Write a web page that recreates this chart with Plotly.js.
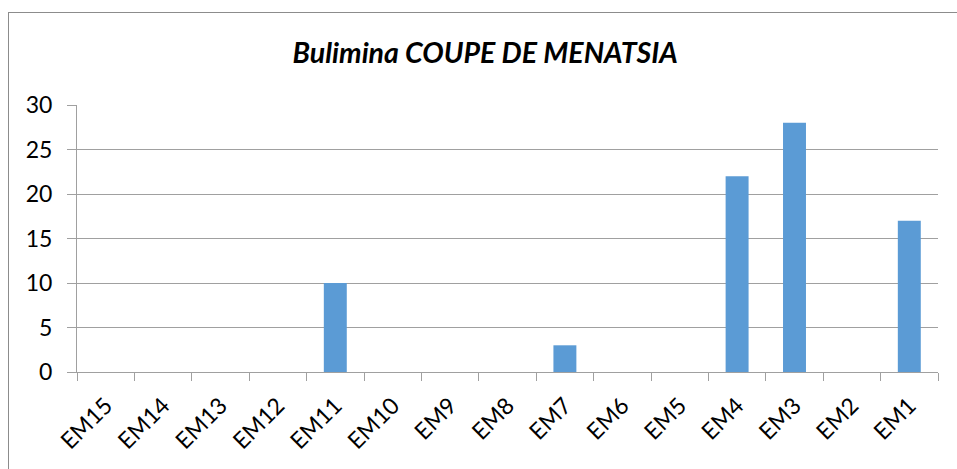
<!DOCTYPE html>
<html>
<head>
<meta charset="utf-8">
<script src="https://cdn.plot.ly/plotly-3.0.1.min.js"></script>
<style>
  html, body { margin: 0; padding: 0; background: #fff; }
  #wrap { position: relative; width: 957px; height: 469px; overflow: hidden; }
  #chart { position: absolute; left: 0; top: 0; width: 957px; height: 469px; }
  #frame { position: absolute; left: 8px; top: 12px; width: 2000px; height: 2000px;
           border-left: 1px solid #8c8c8c; border-top: 1px solid #8c8c8c; pointer-events: none; }
</style>
</head>
<body>
<div id="wrap">
  <div id="chart"></div>
  <div id="frame"></div>
</div>
<script>
const categories = ["EM15","EM14","EM13","EM12","EM11","EM10","EM9","EM8","EM7","EM6","EM5","EM4","EM3","EM2","EM1"];
const values = [0,0,0,0,10,0,0,0,3,0,0,22,28,0,17];
const yTicks = [0,5,10,15,20,25,30];
const titleText = "Bulimina COUPE DE MENATSIA";

const font = "Lato, 'Open Sans', sans-serif";

Plotly.newPlot("chart", [{
  type: "bar",
  x: categories,
  y: values,
  marker: { color: "#5B9BD5" },
  hoverinfo: "x+y"
}], {
  width: 957, height: 469,
  margin: { l: 77, r: 19, t: 105, b: 97 },
  paper_bgcolor: "rgba(0,0,0,0)",
  plot_bgcolor: "rgba(0,0,0,0)",
  bargap: 0.6,
  showlegend: false,
  title: {
    text: "<b><i>" + titleText + "</i></b>",
    font: { family: font, size: 28.5, color: "#000" },
    x: 0.507, xanchor: "center",
    y: 0.888, yanchor: "middle"
  },
  xaxis: {
    type: "category",
    tickangle: -45,
    tickfont: { family: font, size: 23, color: "#000" },
    ticklabelstandoff: 10,
    showgrid: false,
    showline: true, linecolor: "#a0a0a0", linewidth: 1,
    ticks: "outside", ticklen: 8, tickcolor: "#a0a0a0",
    tickson: "boundaries",
    zeroline: false
  },
  yaxis: {
    range: [0, 30],
    tickvals: yTicks,
    ticktext: yTicks.map(String),
    tickfont: { family: font, size: 23, color: "#000" },
    ticklabelstandoff: 10,
    showgrid: true, gridcolor: "#a0a0a0", gridwidth: 1,
    showline: true, linecolor: "#a0a0a0", linewidth: 1,
    ticks: "outside", ticklen: 9, tickcolor: "#a0a0a0",
    zeroline: false
  }
}, { displayModeBar: false, staticPlot: true });
</script>
</body>
</html>
